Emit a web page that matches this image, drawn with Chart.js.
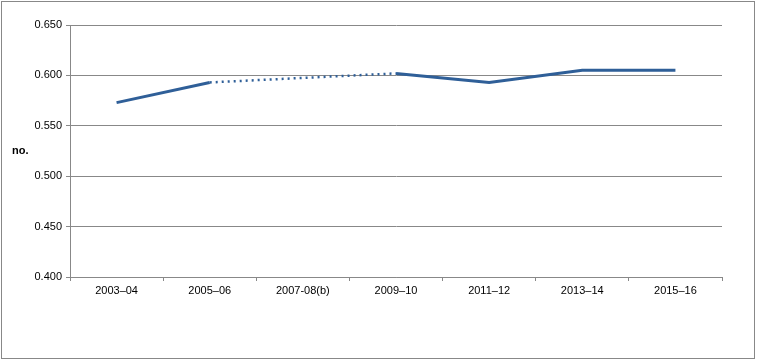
<!DOCTYPE html>
<html>
<head>
<meta charset="utf-8">
<script src="https://cdn.jsdelivr.net/npm/chart.js@4"></script>
<style>
  body { margin: 0; background: #fff; }
</style>
</head>
<body>
<canvas id="chart" width="757" height="360"></canvas>
<script>
// Values
let years = [ '2003–04', '2005–06', '2007-08(b)', '2009–10', '2011–12', '2013–14', '2015–16' ];
let values = [ 0.573, 0.593, null, 0.602, 0.593, 0.605, 0.605 ];
let yMin = 0.400;
let yMax = 0.650;
let yStep = 0.050;

let lineColor = '#2f5f98';
let gridColor = '#888888';

// Outer frame and the horizontal "no." axis label
let framePlugin = {
    id: 'frame',
    afterDraw: function ( chart )
    {
        let c = chart.ctx;
        c.save();
        c.strokeStyle = gridColor;
        c.lineWidth = 1;
        c.strokeRect( 1.5, 1.5, 753, 357 );
        c.fillStyle = '#000';
        c.font = 'bold 11px "Liberation Sans", Arial, sans-serif';
        c.textAlign = 'left';
        c.textBaseline = 'middle';
        c.fillText( 'no.', 12, 151 );
        c.restore();
    }
};

// a segment crossing the missing year is dotted
function overGap ( s )
{
    return values[ s.p0DataIndex ] === null || values[ s.p1DataIndex ] === null;
}

Chart.defaults.font.family = '"Liberation Sans", Arial, sans-serif';
Chart.defaults.font.size = 11;
Chart.defaults.color = '#000';

let ctx = document.getElementById( 'chart' ).getContext( '2d' );
let chart = new Chart( ctx, {
    type: 'line',
    data: {
        labels: years,
        datasets: [ {
            data: values,
            borderColor: lineColor,
            borderWidth: 3,
            pointRadius: 0,
            fill: false,
            spanGaps: true,
            tension: 0,
            segment: {
                borderDash: function ( s ) { return overGap( s ) ? [ 2, 4 ] : undefined; },
                borderWidth: function ( s ) { return overGap( s ) ? 2.5 : undefined; }
            }
        } ]
    },
    options: {
        responsive: false,
        animation: false,
        layout: { padding: { left: 0, right: 35, top: 25, bottom: 0 } },
        plugins: {
            legend: { display: false },
            tooltip: { enabled: false }
        },
        scales: {
            x: {
                offset: true,
                grid: {
                    display: true,
                    drawOnChartArea: false,
                    offset: true,
                    color: gridColor,
                    tickLength: 4
                },
                border: { color: gridColor },
                ticks: { padding: 3, maxRotation: 0, autoSkip: false },
                afterFit: function ( scale ) { scale.height = 83; }
            },
            y: {
                min: yMin,
                max: yMax,
                grid: {
                    color: gridColor,
                    tickLength: 4
                },
                border: { color: gridColor },
                ticks: {
                    stepSize: yStep,
                    padding: 4,
                    callback: function ( v ) { return v.toFixed( 3 ); }
                },
                afterFit: function ( scale ) { scale.width = 70; }
            }
        }
    },
    plugins: [ framePlugin ]
} );
</script>
</body>
</html>
